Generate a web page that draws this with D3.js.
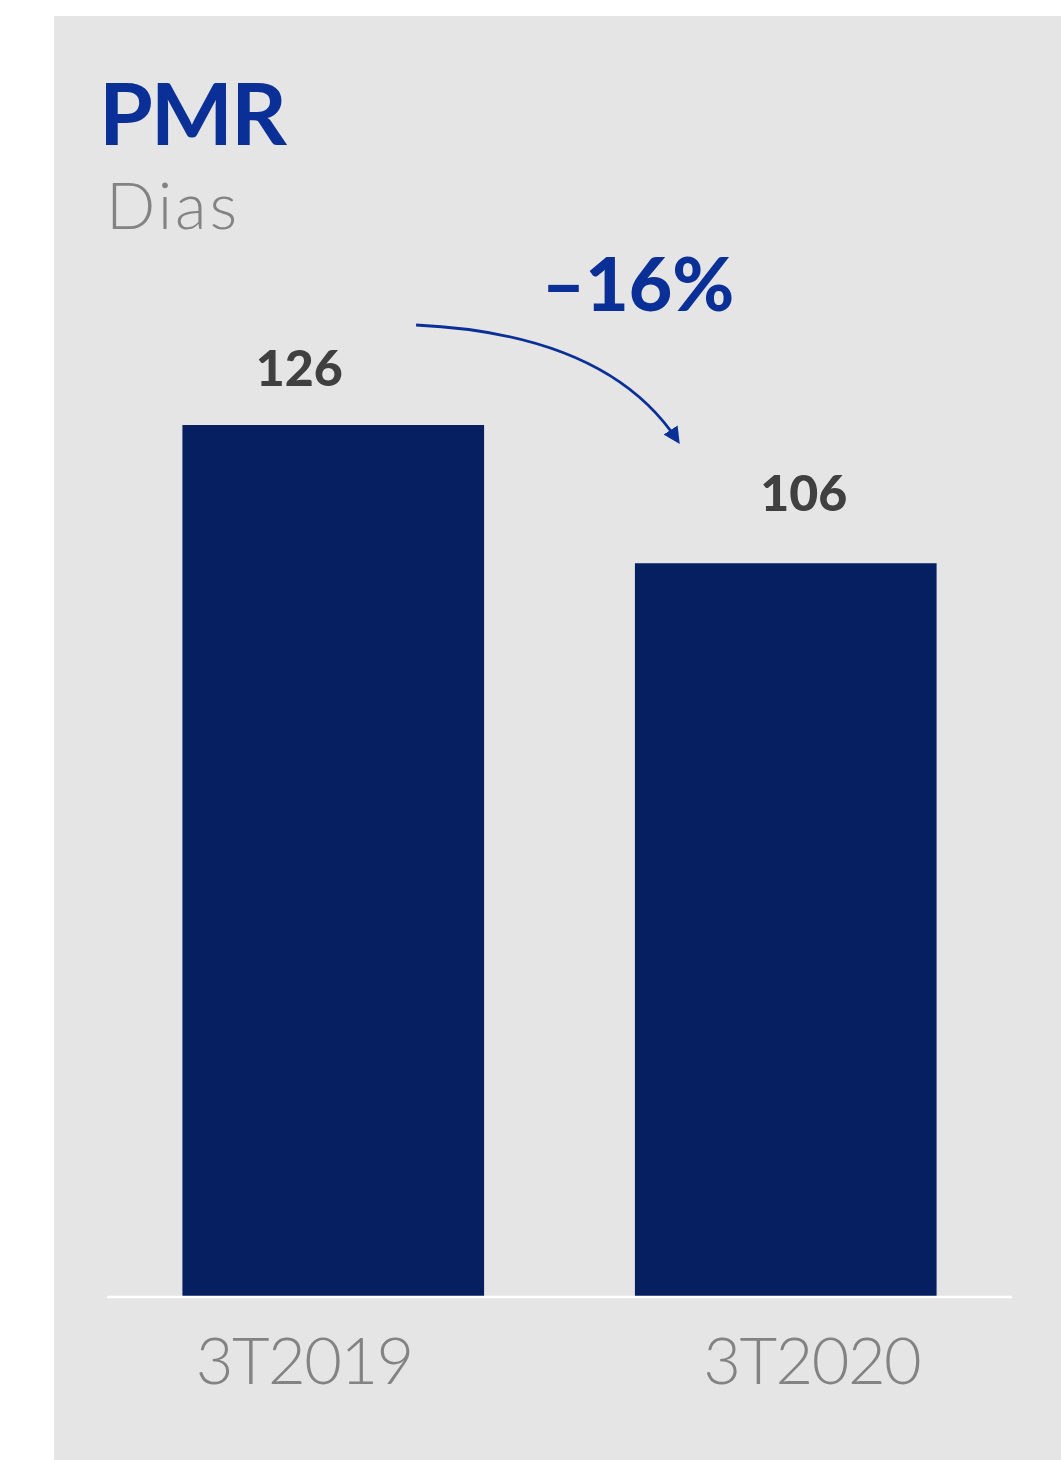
<!DOCTYPE html>
<html>
<head>
<meta charset="utf-8">
<script src="https://cdn.jsdelivr.net/npm/d3@7/dist/d3.min.js"></script>
<style>
  html, body { margin: 0; padding: 0; background: #ffffff; }
  svg { display: block; }
</style>
</head>
<body>
<svg id="chart" width="1061" height="1460"></svg>
<script>
// Average receivables period (PMR), in days
const categories = ["3T2019", "3T2020"];
const values = [126, 106];
const valueLabels = ["126", "106"];
const title = "PMR";
const subtitle = "Dias";
const changeLabel = "–16%";

const W = 1061, H = 1460;
const svg = d3.select("#chart");

// panel background
svg.append("rect")
  .attr("x", 54).attr("y", 16)
  .attr("width", W - 54).attr("height", H - 16)
  .attr("fill", "#e5e5e5");

const baseY = 1296;
const x = d3.scaleBand()
  .domain(categories)
  .range([107, 1012])
  .paddingInner(1 / 3)
  .paddingOuter(1 / 6);

const y = d3.scaleLinear()
  .domain([0, 126])
  .range([baseY, 425]);

// bars
svg.append("g").selectAll("rect")
  .data(categories)
  .join("rect")
  .attr("x", d => x(d))
  .attr("y", (d, i) => y(values[i]))
  .attr("width", x.bandwidth())
  .attr("height", (d, i) => baseY - y(values[i]))
  .attr("fill", "#061f60");

// baseline
svg.append("line")
  .attr("x1", 107).attr("x2", 1012)
  .attr("y1", baseY + 1).attr("y2", baseY + 1)
  .attr("stroke", "#ffffff")
  .attr("stroke-width", 2.5);

// category axis
const axis = svg.append("g")
  .attr("transform", `translate(0,${baseY})`)
  .call(d3.axisBottom(x).tickSize(0).tickPadding(0));
axis.select(".domain").remove();
const catDx = [-29, 26];
axis.selectAll(".tick text")
  .attr("dx", (d, i) => catDx[i])
  .attr("y", 88)
  .attr("dy", 0)
  .attr("fill", "#838383")
  .style("font-family", "Lato, 'Open Sans', sans-serif")
  .style("font-weight", 300)
  .style("font-size", "65px")
  .style("letter-spacing", "-1.5px");

// value labels above bars
const labelDx = [-34, 18];
const labelDy = [-39, -52];
svg.append("g").selectAll("text")
  .data(categories)
  .join("text")
  .attr("x", (d, i) => x(d) + x.bandwidth() / 2 + labelDx[i])
  .attr("y", (d, i) => y(values[i]) + labelDy[i])
  .attr("text-anchor", "middle")
  .attr("fill", "#404040")
  .style("font-family", "Lato, 'Open Sans', sans-serif")
  .style("font-weight", 900)
  .style("font-size", "50px")
  .text((d, i) => valueLabels[i]);

// title block
svg.append("text")
  .attr("x", 99).attr("y", 145)
  .attr("fill", "#0a2f96")
  .style("font-family", "Lato, 'Open Sans', sans-serif")
  .style("font-weight", 700)
  .style("font-size", "87px")
  .style("letter-spacing", "-2px")
  .text(title);

svg.append("text")
  .attr("x", 106).attr("y", 229)
  .attr("fill", "#838383")
  .style("font-family", "Lato, 'Open Sans', sans-serif")
  .style("font-weight", 300)
  .style("font-size", "65px")
  .style("letter-spacing", "3px")
  .text(subtitle);

// change annotation with curved arrow
svg.append("defs").append("marker")
  .attr("id", "arrowhead")
  .attr("viewBox", "0 0 10 10")
  .attr("refX", 8).attr("refY", 5)
  .attr("markerWidth", 6).attr("markerHeight", 6.5)
  .attr("markerUnits", "strokeWidth")
  .attr("orient", "auto")
  .append("path")
  .attr("d", "M0,0 L10,5 L0,10 Z")
  .attr("fill", "#0a2f96");

const arrowStart = [x(categories[0]) + x.bandwidth() - 68, y(values[0]) - 100];
const arrowEnd = [x(categories[1]) + 43, y(values[1]) - 122];
const arrowPath = d3.path();
arrowPath.moveTo(arrowStart[0], arrowStart[1]);
arrowPath.quadraticCurveTo(608, 334, arrowEnd[0], arrowEnd[1]);
svg.append("path")
  .attr("d", arrowPath.toString())
  .attr("fill", "none")
  .attr("stroke", "#0a2f96")
  .attr("stroke-width", 2.8)
  .attr("marker-end", "url(#arrowhead)");

svg.append("text")
  .attr("x", 638).attr("y", 311)
  .attr("text-anchor", "middle")
  .attr("fill", "#0a2f96")
  .style("font-family", "Lato, 'Open Sans', sans-serif")
  .style("font-weight", 900)
  .style("font-size", "75px")
  .text(changeLabel);
</script>
</body>
</html>
